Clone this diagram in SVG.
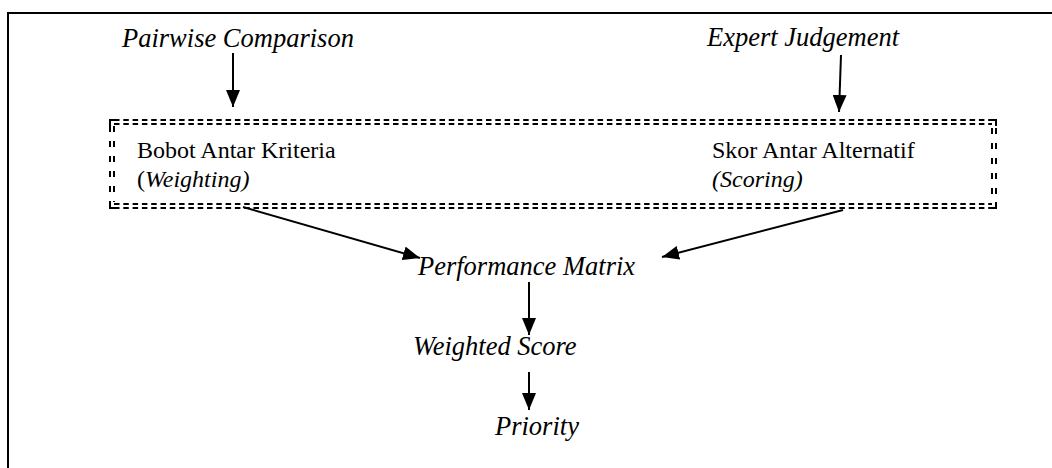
<svg xmlns="http://www.w3.org/2000/svg" width="1052" height="468" viewBox="0 0 1052 468" font-family="'Liberation Serif', 'Times New Roman', serif">
  <defs>
    <style>
      .lbl { font-size: 26.5px; font-style: italic; fill: #000; }
      .box { font-size: 24px; fill: #000; }
      .it { font-style: italic; }
      .conn { stroke: #000; stroke-width: 2; fill: none; marker-end: url(#arr); }
      .dh { stroke: #000; stroke-width: 2; stroke-dasharray: 5.5 3.8; fill: none; }
      .dv { stroke: #000; stroke-width: 2; stroke-dasharray: 6 9; fill: none; }
    </style>
    <marker id="arr" markerUnits="userSpaceOnUse" markerWidth="17" markerHeight="14" refX="17" refY="7" orient="auto">
      <path d="M0,0 L17,7 L0,14 z" fill="#000"/>
    </marker>
  </defs>
  <rect width="1052" height="468" fill="#fff"/>
  <rect x="8" y="13" width="1100" height="500" fill="none" stroke="#000" stroke-width="2"/>

  <g id="frame-dashed">
    <line class="dh" x1="114" y1="120" x2="996" y2="120"/>
    <line class="dh" x1="114" y1="124" x2="992" y2="124"/>
    <line class="dh" x1="114" y1="204" x2="992" y2="204"/>
    <line class="dh" x1="114" y1="208" x2="996" y2="208"/>
    <line class="dv" x1="110" y1="126" x2="110" y2="202"/>
    <line class="dv" x1="114" y1="126" x2="114" y2="202"/>
    <line class="dv" x1="992" y1="128" x2="992" y2="200"/>
    <line class="dv" x1="996" y1="128" x2="996" y2="200"/>
    <path d="M110,126 V120 H114 M110,202 V208 H114 M996,126 V120 H990 M996,202 V208 H990" stroke="#000" stroke-width="2" fill="none"/>
  </g>

  <g id="pairwise"><text class="lbl" x="122" y="47" font-family="Liberation Serif">Pairwise Comparison</text></g>
  <g id="expert"><text class="lbl" x="707" y="46" font-family="Liberation Serif">Expert Judgement</text></g>
  <g id="bobot">
    <text class="box" x="137" y="158" font-family="Liberation Serif">Bobot Antar Kriteria</text>
    <text class="box" x="137" y="187" font-family="Liberation Serif">(<tspan class="it">Weighting)</tspan></text>
  </g>
  <g id="skor">
    <text class="box" x="712" y="158" font-family="Liberation Serif">Skor Antar Alternatif</text>
    <text class="box it" x="712" y="187" font-family="Liberation Serif">(Scoring)</text>
  </g>
  <g id="performance"><text class="lbl" x="418" y="275" font-family="Liberation Serif">Performance Matrix</text></g>
  <g id="weighted"><text class="lbl" x="413" y="355" font-family="Liberation Serif">Weighted Score</text></g>
  <g id="priority"><text class="lbl" x="495" y="435" font-family="Liberation Serif">Priority</text></g>

  <g id="connectors">
    <line class="conn" x1="233" y1="53" x2="233" y2="107"/>
    <line class="conn" x1="841" y1="55" x2="839" y2="112"/>
    <line class="conn" x1="243" y1="207" x2="420" y2="258"/>
    <line class="conn" x1="843" y1="210" x2="662" y2="257"/>
    <line class="conn" x1="529" y1="282" x2="529" y2="335"/>
    <line class="conn" x1="529" y1="372" x2="529" y2="410"/>
  </g>
</svg>
